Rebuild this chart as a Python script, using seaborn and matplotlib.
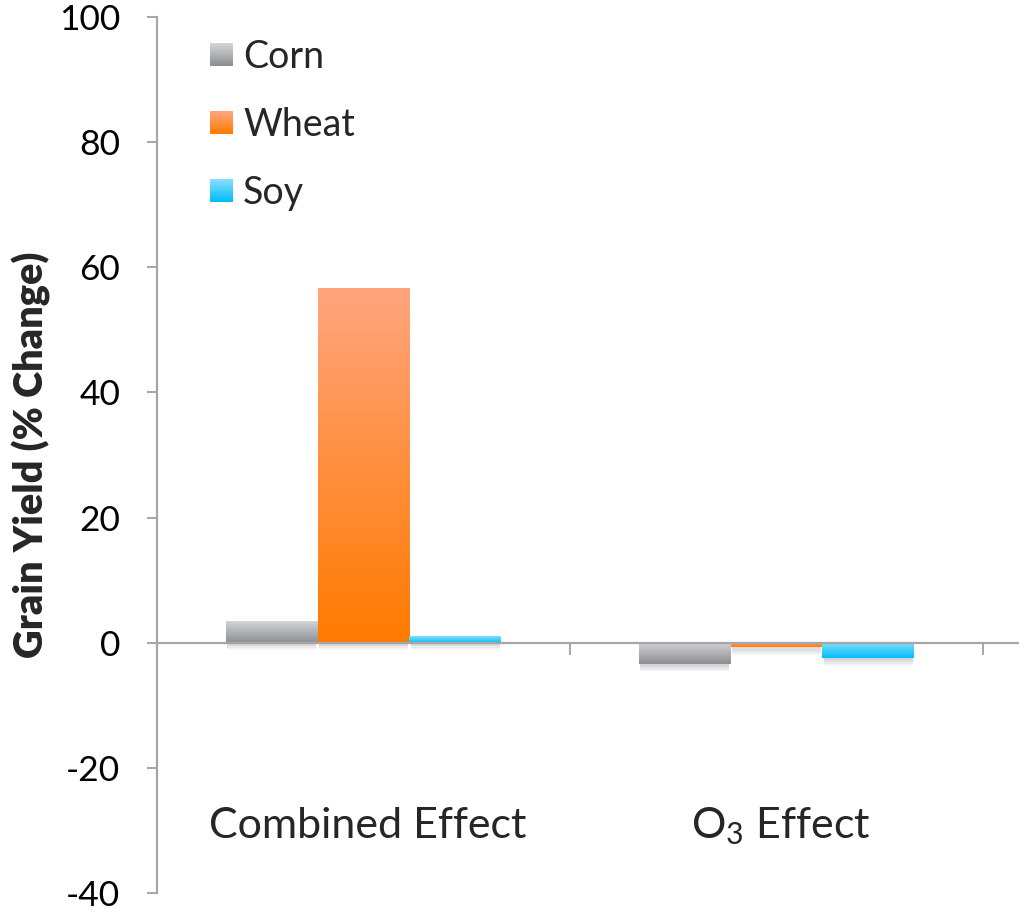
import numpy as np
import pandas as pd
import matplotlib
matplotlib.use("Agg")
import matplotlib.pyplot as plt
import matplotlib.colors as mcolors
from matplotlib.patches import Rectangle
from matplotlib.legend_handler import HandlerBase
import seaborn as sns

# ---- data ----
categories = ["Combined Effect", "O$_3$ Effect"]
crops = ["Corn", "Wheat", "Soy"]
corn = [3.4, -3.4]
wheat = [56.7, -0.7]
soy = [1.0, -2.5]
y_ticks = [-40, -20, 0, 20, 40, 60, 80, 100]

# gradient colours (top, bottom) for each crop
grad = {
    "Corn": ("#d3d4d7", "#8c8e92"),
    "Wheat": ("#ffa57e", "#ff7a00"),
    "Soy": ("#86deff", "#00bdf8"),
}

df = pd.DataFrame({
    "Category": np.repeat(categories, 3),
    "Crop": crops * 2,
    "Value": [v for pair in zip(corn, wheat, soy) for v in pair],
})

sns.set_theme(style="white")
plt.rcParams["font.family"] = ["Lato", "DejaVu Sans"]
plt.rcParams["mathtext.fontset"] = "custom"
plt.rcParams["mathtext.rm"] = "Lato"
plt.rcParams["mathtext.it"] = "Lato"
plt.rcParams["mathtext.default"] = "rm"

W, H = 1019, 919
fig = plt.figure(figsize=(W / 100, H / 100), dpi=100)
ax_left, ax_right = 157, 1019
ax_top, ax_bot = 17, 893
ax = fig.add_axes([ax_left / W, 1 - ax_bot / H, (ax_right - ax_left) / W, (ax_bot - ax_top) / H])

mid = {c: mcolors.to_hex(np.mean([mcolors.to_rgb(grad[c][0]), mcolors.to_rgb(grad[c][1])], axis=0)) for c in crops}
sns.barplot(data=df, x="Category", y="Value", hue="Crop", hue_order=crops,
            order=categories, palette=mid, width=0.667, gap=0, dodge=True,
            errorbar=None, saturation=1, ax=ax, legend=False)

# x extent: one category spans 413 px
cat_px = 413.0
xlim = (-0.5, -0.5 + (ax_right - ax_left) / cat_px)


def gradient_img(top, bottom, n=256):
    t = np.linspace(0, 1, n)[:, None]
    c0 = np.array(mcolors.to_rgb(top))
    c1 = np.array(mcolors.to_rgb(bottom))
    return (c0 * (1 - t) + c1 * t)[:, None, :].repeat(2, axis=1)


# shade each bar with a vertical gradient and a soft drop shadow below it
bars = list(ax.patches)
for i, p in enumerate(bars):
    crop = crops[i // len(categories)]
    x, w = p.get_x(), p.get_width()
    y0, h = p.get_y(), p.get_height()
    lo, hi = min(y0, y0 + h), max(y0, y0 + h)
    for k in range(4):
        off = (k + 1) * 0.3
        sh = Rectangle((x + 0.004, lo - off), w - 0.008, min(hi - lo, 2.0) + 0.2,
                       facecolor="black", edgecolor="none", alpha=0.045, zorder=1.5)
        ax.add_patch(sh)
    p.set_facecolor("none")
    p.set_edgecolor("none")
    p.set_zorder(3)
    ax.imshow(gradient_img(*grad[crop]), extent=[x, x + w, lo, hi],
              aspect="auto", origin="upper", zorder=2.5, interpolation="bilinear")

ax.set_xlim(*xlim)
ax.set_ylim(-40, 100)

# axes styling
axis_col = "#a6a6a6"
for s in ["top", "right"]:
    ax.spines[s].set_visible(False)
ax.spines["left"].set_color(axis_col)
ax.spines["left"].set_linewidth(1.6)
ax.spines["bottom"].set_position(("data", 0))
ax.spines["bottom"].set_color(axis_col)
ax.spines["bottom"].set_linewidth(1.6)
ax.spines["bottom"].set_zorder(4)

ax.set_yticks(y_ticks)
ax.set_yticklabels([str(v) for v in y_ticks])
ax.tick_params(axis="y", direction="out", length=7.5, width=1.4, color=axis_col,
               pad=19, labelsize=25.5, labelcolor="black", left=True)
ax.set_xticks([-0.5, 0.5, 1.5])
ax.set_xticklabels(["", "", ""])
ax.tick_params(axis="x", direction="out", length=8.5, width=1.4, color=axis_col, bottom=True)
ax.set_xlabel("")
ax.set_ylabel("Grain Yield (% Change)", fontsize=28.5, fontweight="heavy", labelpad=6)
ax.grid(False)

for i, c in enumerate(categories):
    ax.text(i + 0.01, -31.2, c, ha="center", va="baseline", fontsize=31)


class GradientHandler(HandlerBase):
    def __init__(self, top, bottom, **kw):
        super().__init__(**kw)
        self.top, self.bottom = top, bottom

    def create_artists(self, legend, orig_handle, xdescent, ydescent, width, height, fontsize, trans):
        n = 24
        side = width
        artists = []
        c0 = np.array(mcolors.to_rgb(self.top))
        c1 = np.array(mcolors.to_rgb(self.bottom))
        y_base = -ydescent + (height - side) / 2
        for k in range(n):
            t = k / (n - 1)
            col = c0 * t + c1 * (1 - t)
            r = Rectangle((-xdescent, y_base + side * k / n), side, side / n + 0.05,
                          facecolor=col, edgecolor="none", transform=trans)
            artists.append(r)
        return artists


handles = [Rectangle((0, 0), 1, 1) for _ in crops]
ax.legend(handles, crops, loc="upper left",
          bbox_to_anchor=(195 / W, 1 - 24 / H), bbox_transform=fig.transFigure,
          frameon=False, fontsize=27, handlelength=0.6, handleheight=0.6,
          handletextpad=0.28, labelspacing=0.85, borderaxespad=0,
          handler_map={h: GradientHandler(*grad[c]) for h, c in zip(handles, crops)})

fig.savefig("out.png", dpi=100)
